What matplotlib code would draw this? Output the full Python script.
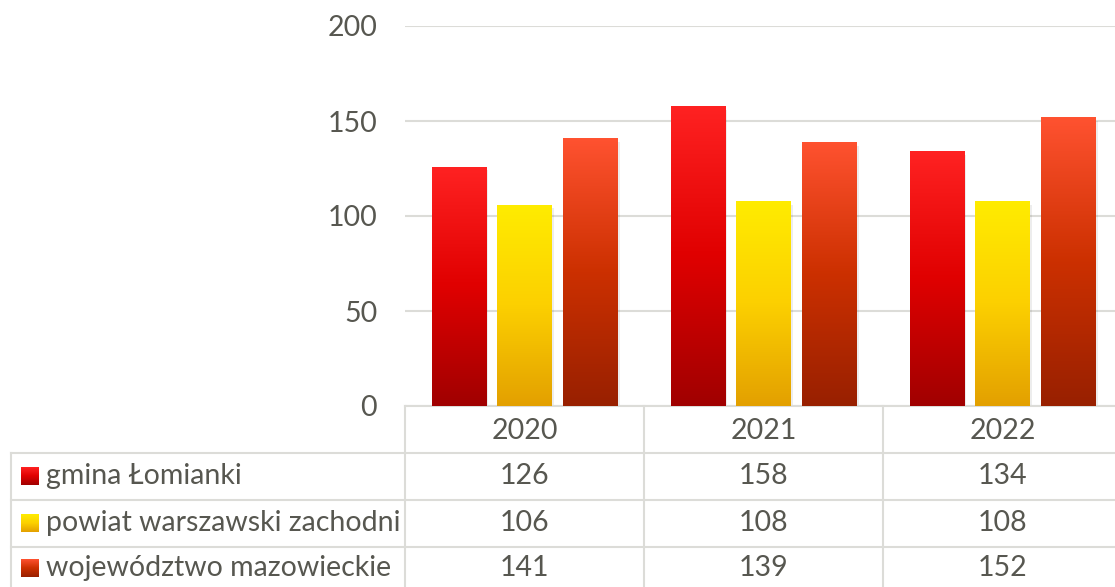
import numpy as np
import matplotlib.pyplot as plt
from matplotlib.colors import LinearSegmentedColormap
from matplotlib.transforms import blended_transform_factory

years = ["2020", "2021", "2022"]
series = ["gmina Łomianki", "powiat warszawski zachodni", "województwo mazowieckie"]
lomianki = [126, 158, 134]
powiat = [106, 108, 108]
mazowieckie = [141, 139, 152]
values = [lomianki, powiat, mazowieckie]

# gradient colours top -> bottom
grads = [["#ff2222", "#e00000", "#a00000"],
         ["#ffec00", "#fcd000", "#e3a000"],
         ["#ff5230", "#cc3000", "#982000"]]

W, H = 1115, 587
plt.rcParams['font.family'] = ['Lato', 'DejaVu Sans']
txt = "#575750"
grid_c = "#dcdcd8"
fs = 20.5

fig = plt.figure(figsize=(W / 100, H / 100), dpi=100)
ax = fig.add_axes([405 / W, (H - 406) / H, 717 / W, 380 / H])

x = np.arange(len(years))
bw = 0.226
offs = [-0.276, 0, 0.276]
grad = np.linspace(1, 0, 256).reshape(-1, 1)
for i in range(3):
    cmap = LinearSegmentedColormap.from_list("g%d" % i, grads[i][::-1])
    bars = ax.bar(x + offs[i], values[i], width=bw, color="none", zorder=3)
    for b in bars:
        bx, by = b.get_x(), b.get_y()
        bwid, bh = b.get_width(), b.get_height()
        # soft shadow
        ax.bar(bx + bwid / 2 + 0.012, bh, width=bwid, bottom=-2,
               color="#000000", alpha=0.07, zorder=2)
        im = ax.imshow(grad, cmap=cmap, aspect="auto", zorder=3,
                       extent=[bx, bx + bwid, 0, bh], origin="upper")
        im.set_clip_path(b)

ax.set_xlim(-0.5, 2.5)
ax.set_ylim(0, 200)
ax.set_yticks([0, 50, 100, 150, 200])
ax.yaxis.grid(True, color=grid_c, lw=1.5, zorder=0)
ax.set_xticks([])
for s in ["top", "right", "left"]:
    ax.spines[s].set_visible(False)
ax.spines["bottom"].set_color(grid_c)
ax.spines["bottom"].set_linewidth(1.5)
ax.tick_params(axis="y", length=0, pad=20, labelsize=fs, labelcolor=txt)

# data table below the plot
tr = blended_transform_factory(ax.transData, fig.transFigure)
def fy(py):
    return 1 - py / H

row_lines = [453, 500, 547]
for py in row_lines:
    fig.add_artist(plt.Line2D([11 / W, 1], [fy(py), fy(py)], color=grid_c, lw=1.5,
                              transform=fig.transFigure))
for px, top in [(11, 453), (405, 406)]:
    fig.add_artist(plt.Line2D([px / W, px / W], [fy(top), 0], color=grid_c, lw=1.5,
                              transform=fig.transFigure))
for xb in [0.5, 1.5]:
    fig.add_artist(plt.Line2D([xb, xb], [fy(406), 0], color=grid_c, lw=1.5,
                              transform=tr))

for j, yr in enumerate(years):
    fig.text(x[j], fy(431), yr, transform=tr, ha="center", va="center",
             fontsize=fs, color=txt)
row_c = [476, 523, 568]
for i in range(3):
    for j in range(3):
        fig.text(x[j], fy(row_c[i]), str(values[i][j]), transform=tr, ha="center",
                 va="center", fontsize=fs, color=txt)
    # legend key with gradient
    kax = fig.add_axes([21 / W, fy(row_c[i] + 9), 18 / W, 18 / H])
    cmap = LinearSegmentedColormap.from_list("k%d" % i, grads[i][::-1])
    kax.imshow(grad, cmap=cmap, aspect="auto")
    kax.axis("off")
    fig.text(46 / W, fy(row_c[i]), series[i], ha="left", va="center",
             fontsize=fs, color=txt)

fig.savefig("out.png", dpi=100)
